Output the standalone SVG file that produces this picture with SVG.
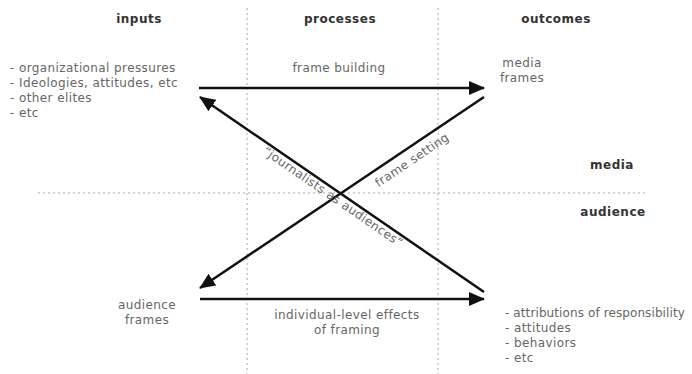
<svg xmlns="http://www.w3.org/2000/svg" width="692" height="374" viewBox="0 0 692 374">
<style>
text{font-family:"DejaVu Sans","Liberation Sans",sans-serif;font-size:12px;letter-spacing:0.4px;fill:#666}
.h{font-weight:bold;fill:#333;letter-spacing:0.5px}
.grid{stroke:#aaa;stroke-width:1;stroke-dasharray:2,3;fill:none}
.arr{stroke:#111;stroke-width:2.5;fill:none;marker-end:url(#ah)}
</style>
<defs>
<marker id="ah" markerUnits="userSpaceOnUse" markerWidth="16" markerHeight="14" refX="15" refY="7" orient="auto">
<path d="M0,0 L16,7 L0,14 Z" fill="#111"/>
</marker>
</defs>
<rect width="692" height="374" fill="#fff"/>
<g id="grid">
<line class="grid" x1="247" y1="8" x2="247" y2="374"/>
<line class="grid" x1="438" y1="8" x2="438" y2="374"/>
<line class="grid" x1="38" y1="193" x2="645" y2="193"/>
</g>
<g id="headers">
<text class="h" x="139" y="23" text-anchor="middle">inputs</text>
<text class="h" x="340" y="23" text-anchor="middle">processes</text>
<text class="h" x="556" y="23" text-anchor="middle">outcomes</text>
<text class="h" x="612" y="169" text-anchor="middle">media</text>
<text class="h" x="613" y="216" text-anchor="middle">audience</text>
</g>
<g id="inputs">
<text x="10" y="72">- organizational pressures</text>
<text x="10" y="87">- Ideologies, attitudes, etc</text>
<text x="10" y="102">- other elites</text>
<text x="10" y="117">- etc</text>
</g>
<g id="media-frames">
<text x="522" y="67" text-anchor="middle">media</text>
<text x="522" y="82" text-anchor="middle">frames</text>
</g>
<g id="audience-frames">
<text x="147" y="309" text-anchor="middle">audience</text>
<text x="147" y="324" text-anchor="middle">frames</text>
</g>
<g id="outcomes">
<text x="505" y="317" style="letter-spacing:0.1px">- attributions of responsibility</text>
<text x="505" y="332">- attitudes</text>
<text x="505" y="347">- behaviors</text>
<text x="505" y="362">- etc</text>
</g>
<g id="connectors">
<line class="arr" x1="199" y1="88" x2="484" y2="88"/>
<line class="arr" x1="484" y1="97" x2="200" y2="288"/>
<line class="arr" x1="484" y1="292" x2="200" y2="97"/>
<line class="arr" x1="200" y1="299" x2="484" y2="299"/>
<text x="339" y="72" text-anchor="middle">frame building</text>
<text x="347" y="319" text-anchor="middle">individual-level effects</text>
<text x="347" y="334" text-anchor="middle">of framing</text>
<text x="412" y="164" text-anchor="middle" transform="rotate(-34 412 160)">frame setting</text>
<text x="333" y="201" text-anchor="middle" transform="rotate(34.5 333 197)">“journalists as audiences”</text>
</g>
</svg>
